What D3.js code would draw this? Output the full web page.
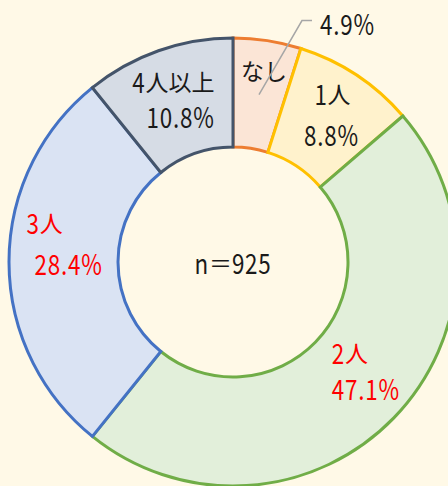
<!DOCTYPE html>
<html>
<head>
<meta charset="utf-8">
<script src="https://cdn.jsdelivr.net/npm/d3@7"></script>
<style>
  html, body { margin: 0; padding: 0; background: #fff9e7; }
  svg { display: block; }
</style>
</head>
<body>
<div id="donut"></div>
<script>
// household count categories, clockwise from the top
const categories = ["なし", "1人", "2人", "3人", "4人以上"];
const shares = [4.9, 8.8, 47.1, 28.4, 10.8];
const fills = ["#fbe5d6", "#fff2cc", "#e2efda", "#dae3f3", "#d6dce5"];
const strokes = ["#ed7d31", "#ffc000", "#70ad47", "#4472c4", "#44546a"];
const textColors = ["#1a1a1a", "#1a1a1a", "#ff0000", "#ff0000", "#1a1a1a"];
const sampleLabel = "n＝925";

const width = 448, height = 486;
const cx = 233, cy = 262;
const outerR = 224, innerR = 115;

// label placement relative to slice centroid: [anchor, name dx, name dy, value dx, value dy]
const labelOffsets = [
  ["middle", 5, -25, 61, -72],
  ["middle", 6, -28, 5, 13],
  ["start", -23, -28, -23, 8],
  ["start", -37, -40, -29, 1],
  ["end", 38, -21, 38, 14]
];

const svg = d3.select("#donut")
  .append("svg")
  .attr("width", width)
  .attr("height", height);

svg.append("rect")
  .attr("width", width)
  .attr("height", height)
  .attr("fill", "#fff9e7");

const g = svg.append("g")
  .attr("transform", `translate(${cx},${cy})`);

const pie = d3.pie()
  .value(d => d)
  .sort(null);

const arc = d3.arc()
  .innerRadius(innerR)
  .outerRadius(outerR);

const labelArc = d3.arc()
  .innerRadius((innerR + outerR) / 2)
  .outerRadius((innerR + outerR) / 2);

const arcs = pie(shares);

// slices
g.selectAll("path.slice")
  .data(arcs)
  .enter()
  .append("path")
    .attr("class", "slice")
    .attr("d", arc)
    .attr("fill", (d, i) => fills[i])
    .attr("stroke", (d, i) => strokes[i])
    .attr("stroke-width", 3);

// mixed text: CJK runs square, latin runs squeezed sideways (narrow digits)
const isCJK = ch => /[\u3000-\u9fff\uff00-\uffef]/.test(ch);
function drawLine(parent, str, x, y, anchor, color) {
  const runs = [];
  for (const ch of str) {
    const c = isCJK(ch);
    if (runs.length && runs[runs.length - 1].cjk === c) runs[runs.length - 1].s += ch;
    else runs.push({ cjk: c, s: ch });
  }
  const line = parent.append("g");
  let cursor = 0;
  runs.forEach(r => {
    const sx = r.cjk ? 1 : 0.8;
    const t = line.append("text")
      .attr("transform", `translate(${cursor},0) scale(${sx},1)`)
      .attr("dominant-baseline", "central")
      .attr("font-family", "'Noto Sans CJK JP', sans-serif")
      .attr("font-size", r.cjk ? 23 : 28)
      .attr("letter-spacing", r.cjk ? 0 : 1)
      .attr("fill", color)
      .text(r.s);
    cursor += t.node().getComputedTextLength() * sx;
  });
  const shift = anchor === "middle" ? -cursor / 2 : anchor === "end" ? -cursor : 0;
  line.attr("transform", `translate(${x + shift},${y})`);
}

const fmt = d3.format(".1f");

arcs.forEach((d, i) => {
  const [x, y] = labelArc.centroid(d);
  const o = labelOffsets[i];
  const isOutside = i === 0;

  drawLine(g, categories[i], x + o[1], y + o[2], o[0], textColors[i]);
  drawLine(g, fmt(shares[i]) + "%", x + o[3], y + o[4], isOutside ? "start" : o[0], textColors[i]);

  if (isOutside) {
    // leader line from slice centre to the outside label
    g.append("polyline")
      .attr("points", [[x, y], [x + o[3] - 18, y + o[4] - 2], [x + o[3] - 8, y + o[4] - 2]].map(p => p.join(",")).join(" "))
      .attr("fill", "none")
      .attr("stroke", "#a6a6a6")
      .attr("stroke-width", 1.5);
  }
});

// sample size in the hole
drawLine(g, sampleLabel, 0, 0, "middle", "#1a1a1a");
</script>
</body>
</html>
